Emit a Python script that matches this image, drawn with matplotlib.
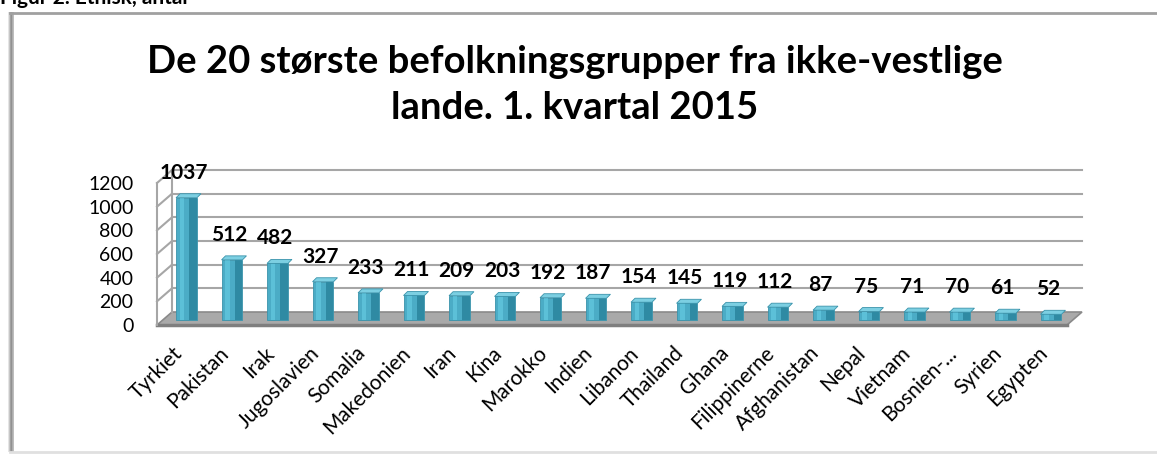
import matplotlib
matplotlib.use("Agg")
import matplotlib.pyplot as plt
import matplotlib.transforms as mtransforms
from matplotlib.patches import Polygon

# Data
countries = ["Tyrkiet", "Pakistan", "Irak", "Jugoslavien", "Somalia", "Makedonien",
             "Iran", "Kina", "Marokko", "Indien", "Libanon", "Thailand", "Ghana",
             "Filippinerne", "Afghanistan", "Nepal", "Vietnam", "Bosnien-...",
             "Syrien", "Egypten"]
values = [1037, 512, 482, 327, 233, 211, 209, 203, 192, 187, 154, 145, 119,
          112, 87, 75, 71, 70, 61, 52]
yticks = [0, 200, 400, 600, 800, 1000, 1200]
title = "De 20 største befolkningsgrupper fra ikke-vestlige\nlande. 1. kvartal 2015"

W, H = 1157, 457
plt.rcParams['font.family'] = ['Lato', 'DejaVu Sans']

fig = plt.figure(figsize=(W / 100, H / 100), dpi=100)

# background axes in pixel coordinates (frame, title)
bg = fig.add_axes([0, 0, 1, 1])
bg.set_xlim(0, W)
bg.set_ylim(H, 0)
bg.axis("off")

# frame with shadow
for i, c in enumerate(["#e0e0e0", "#c0c0c0", "#999999", "#8c8c8c", "#b0b0b0"]):
    bg.plot([9 + i, 9 + i], [12, 452], color=c, lw=1.2, solid_capstyle="butt")
bg.plot([10, W], [12.5, 12.5], color="#a0a0a0", lw=2)
bg.plot([10, W], [452, 452], color="#e0e0e0", lw=2)

bg.text(0, -2, "Figur 2. Etnisk, antal", fontsize=15, fontweight="bold",
        ha="left", va="center")
bg.text(575, 85, title, fontsize=27.5, fontweight="bold", ha="center", va="center",
        linespacing=1.42)

# main axes = front plane of the 3D plot
x0, x1, yb, yt = 157, 1067, 325, 183
ax = fig.add_axes([x0 / W, (H - yb) / H, (x1 - x0) / W, (yb - yt) / H])
ax.patch.set_alpha(0)
n = len(values)
ax.set_xlim(-0.5, n - 0.5)
ax.set_ylim(0, 1200)
for s in ax.spines.values():
    s.set_visible(False)

dx, dy = 15 / 100, 13 / 100  # depth offset in inches
back = ax.transData + mtransforms.ScaledTranslation(dx, dy, fig.dpi_scale_trans)
mid = ax.transData + mtransforms.ScaledTranslation(dx * 0.45, dy * 0.35, fig.dpi_scale_trans)

gcol = "#a6a6a6"
# back wall gridlines and left wall diagonals
for t in yticks[1:]:
    ax.plot([-0.5, n - 0.5], [t, t], color=gcol, lw=1.5, transform=back, clip_on=False)
    p0 = ax.transData.transform((-0.5, t))
    p1 = back.transform((-0.5, t))
    ax.plot([p0[0], p1[0]], [p0[1], p1[1]], color=gcol, lw=1.5, transform=None, clip_on=False)
ax.plot([-0.5, -0.5], [0, 1200], color=gcol, lw=1.5, clip_on=False)
ax.plot([-0.5, -0.5], [0, 1200], color=gcol, lw=1.5, transform=back, clip_on=False)

# floor
fl = [ax.transData.transform((-0.5, 0)), ax.transData.transform((n - 0.5, 0)),
      back.transform((n - 0.5, 0)), back.transform((-0.5, 0))]
ax.add_patch(Polygon(fl, closed=True, transform=None, facecolor="#a9a9a9",
                     edgecolor="#8a8a8a", lw=1.2, clip_on=False, zorder=1))
ax.plot([-0.5, n - 0.5], [0, 0], color="#7f7f7f", lw=2.5, clip_on=False, zorder=1.5)

# bars with a darker side and lighter top
xs = list(range(n))
w = 0.46
ax.bar(xs, values, width=w, color="#4bacc6", edgecolor="#3a93ab", lw=0.6,
       transform=mid, zorder=3)
ax.bar([x + w * 0.32 for x in xs], values, width=w * 0.36, color="#2f8aa3",
       lw=0, transform=mid, zorder=3.2)
ax.bar([x - w * 0.22 for x in xs], values, width=w * 0.22, color="#5cc0d8",
       lw=0, transform=mid, zorder=3.1)
for x, v in zip(xs, values):
    a = mid.transform((x - w / 2, v))
    b = mid.transform((x + w / 2, v))
    cap = [a, b, (b[0] + 4, b[1] + 4), (a[0] + 4, a[1] + 4)]
    ax.add_patch(Polygon(cap, closed=True, transform=None, facecolor="#7ccfe2",
                         edgecolor="#3a93ab", lw=0.6, clip_on=False, zorder=3.3))
    ax.annotate(str(v), (x, v), xycoords=mid, xytext=(-2, 18), textcoords="offset points",
                ha="center", va="center", fontsize=15, fontweight="bold", zorder=5)

ax.set_yticks(yticks)
ax.set_yticklabels([str(t) for t in yticks], fontsize=14)
ax.tick_params(axis="y", length=0, pad=17)
ax.set_xticks(xs)
ax.set_xticklabels(countries, rotation=45, ha="right", va="center",
                   rotation_mode="anchor", fontsize=15)
ax.tick_params(axis="x", length=0, pad=18)

fig.savefig("out.png", dpi=100)
